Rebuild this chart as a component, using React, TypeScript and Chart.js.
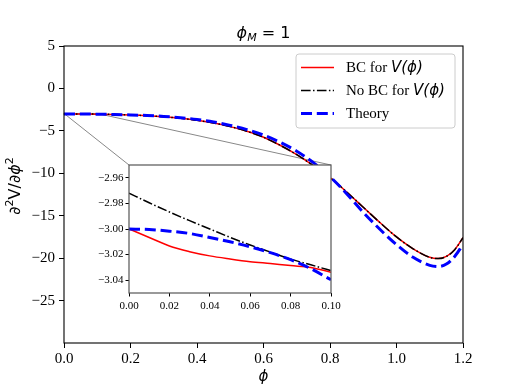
import React, { useEffect, useRef } from "react";
import { Chart, registerables } from "chart.js";

Chart.register(...registerables);

// ---- main panel data ----
const PHI = [0, 0.05, 0.1, 0.15, 0.2, 0.25, 0.3, 0.35, 0.4, 0.45, 0.5, 0.55, 0.6, 0.65, 0.7, 0.75, 0.8, 0.85, 0.9, 0.95, 1.0, 1.05, 1.1, 1.125, 1.15, 1.175, 1.2];
const RED_MAIN = [-3.0, -3.02, -3.03, -3.07, -3.13, -3.22, -3.35, -3.52, -3.75, -4.08, -4.5, -5.05, -5.75, -6.7, -7.8, -9.1, -10.5, -12.2, -14.0, -15.8, -17.5, -18.9, -19.9, -20.05, -19.8, -19.0, -17.6];
const BLACK_MAIN = [-2.97, -3.01, -3.03, -3.07, -3.13, -3.22, -3.35, -3.52, -3.75, -4.08, -4.5, -5.05, -5.75, -6.7, -7.8, -9.1, -10.5, -12.2, -14.0, -15.8, -17.5, -18.9, -19.9, -20.05, -19.8, -19.0, -17.6];
const BLUE_MAIN = [-3.0, -3.01, -3.04, -3.07, -3.12, -3.19, -3.3, -3.45, -3.65, -3.95, -4.35, -4.85, -5.5, -6.35, -7.4, -8.75, -10.4, -12.4, -14.6, -16.6, -18.4, -19.9, -20.85, -21.0, -20.7, -19.8, -18.4];
const X_TICKS = [0, 0.2, 0.4, 0.6, 0.8, 1.0, 1.2];
const Y_TICKS = [-25, -20, -15, -10, -5, 0, 5];

// ---- inset data ----
const PHI_INSET = [0, 0.01, 0.02, 0.03, 0.04, 0.05, 0.06, 0.07, 0.08, 0.09, 0.1];
const RED_INSET = [-3.0, -3.0066, -3.0133, -3.0177, -3.021, -3.0234, -3.0255, -3.027, -3.0286, -3.030, -3.0338];
const BLACK_INSET = [-2.972, -2.9795, -2.9867, -2.9935, -3.0, -3.0065, -3.0125, -3.018, -3.0235, -3.028, -3.0325];
const BLUE_INSET = [-3.0, -3.0004, -3.0017, -3.0035, -3.0066, -3.010, -3.0139, -3.0185, -3.024, -3.031, -3.0397];
const INSET_X_TICKS = [0, 0.02, 0.04, 0.06, 0.08, 0.1];
const INSET_Y_TICKS = [-3.04, -3.02, -3.0, -2.98, -2.96];

// ---- legend / labels ----
const LEGEND_TEXT = ["BC for ", "No BC for ", "Theory"];
const LEGEND_MATH = ["V(ϕ)", "V(ϕ)", ""];
const TITLE_MAIN = "ϕ";
const TITLE_SUB = "M";
const TITLE_REST = " = 1";
const X_LABEL = "ϕ";

const RED = "#ff0000";
const BLACK = "#000000";
const BLUE = "#0000ff";
const DASH_DOT = [9.6, 2.4, 1.5, 2.4];
const DASHED = [11, 4.8];

const SERIF = "'Liberation Serif', 'Times New Roman', serif";
const SANS = "'DejaVu Sans', sans-serif";

const fmtMinus = (s: string) => s.replace("-", "\u2212");

// inset canvas placement
const INSET_BOX = { left: 80, top: 155, width: 280, height: 165 };

export default function App() {
  const mainRef = useRef<HTMLCanvasElement | null>(null);
  const insetRef = useRef<HTMLCanvasElement | null>(null);

  useEffect(() => {
    if (!mainRef.current || !insetRef.current) return;

    const insetDecor = {
      id: "insetDecor",
      beforeDraw(chart: any) {
        const { ctx, chartArea: a } = chart;
        ctx.save();
        ctx.fillStyle = "#ffffff";
        ctx.fillRect(a.left, a.top, a.right - a.left, a.bottom - a.top);
        ctx.restore();
      },
      afterDraw(chart: any) {
        const { ctx, chartArea: a } = chart;
        ctx.save();
        ctx.strokeStyle = "#555555";
        ctx.lineWidth = 1.2;
        ctx.strokeRect(a.left, a.top, a.right - a.left, a.bottom - a.top);
        ctx.restore();
      },
    };

    const inset = new Chart(insetRef.current, {
      type: "line",
      data: {
        datasets: [
          { label: "BC", data: PHI_INSET.map((x, i) => ({ x, y: RED_INSET[i] })), borderColor: RED, borderWidth: 1.5, pointRadius: 0, order: 2, cubicInterpolationMode: "monotone" },
          { label: "NoBC", data: PHI_INSET.map((x, i) => ({ x, y: BLACK_INSET[i] })), borderColor: BLACK, borderWidth: 1.5, borderDash: DASH_DOT, pointRadius: 0, order: 1, cubicInterpolationMode: "monotone" },
          { label: "Theory", data: PHI_INSET.map((x, i) => ({ x, y: BLUE_INSET[i] })), borderColor: BLUE, borderWidth: 3, borderDash: DASHED, pointRadius: 0, order: 0, cubicInterpolationMode: "monotone" },
        ],
      },
      options: {
        animation: false,
        responsive: false,
        maintainAspectRatio: false,
        layout: { padding: { left: 0, top: 10, right: 29, bottom: 0 } },
        plugins: { legend: { display: false }, tooltip: { enabled: false } },
        scales: {
          x: {
            type: "linear",
            min: 0,
            max: 0.1,
            afterBuildTicks: (s: any) => { s.ticks = INSET_X_TICKS.map((v) => ({ value: v })); },
            afterFit: (s: any) => { s.height = 27; },
            grid: { drawOnChartArea: false, drawTicks: true, tickLength: 3.5, color: "#000", tickWidth: 1 },
            border: { display: false },
            ticks: { color: "#000", font: { family: SERIF, size: 11 }, padding: 3, maxRotation: 0, autoSkip: false, callback: (v: any) => Number(v).toFixed(2) },
          },
          y: {
            type: "linear",
            min: -3.05,
            max: -2.95,
            afterBuildTicks: (s: any) => { s.ticks = INSET_Y_TICKS.map((v) => ({ value: v })); },
            afterFit: (s: any) => { s.width = 49; },
            grid: { drawOnChartArea: false, drawTicks: true, tickLength: 3.5, color: "#000", tickWidth: 1 },
            border: { display: false },
            ticks: { color: "#000", font: { family: SERIF, size: 11 }, padding: 2, autoSkip: false, callback: (v: any) => fmtMinus(Number(v).toFixed(2)) },
          },
        },
      },
      plugins: [insetDecor],
    } as any);

    const drawPieces = (ctx: CanvasRenderingContext2D, pieces: { t: string; font: string; dy: number }[], cx: number, baseline: number) => {
      let total = 0;
      for (const p of pieces) { ctx.font = p.font; total += ctx.measureText(p.t).width; }
      let x = cx - total / 2;
      ctx.textAlign = "left";
      ctx.textBaseline = "alphabetic";
      for (const p of pieces) {
        ctx.font = p.font;
        ctx.fillText(p.t, x, baseline + p.dy);
        x += ctx.measureText(p.t).width;
      }
    };

    const mainDecor = {
      id: "mainDecor",
      beforeDatasetsDraw(chart: any) {
        const { ctx } = chart;
        const xs = chart.scales.x;
        const ys = chart.scales.y;
        const ia = inset.chartArea;
        const x0 = xs.getPixelForValue(0);
        const x1 = xs.getPixelForValue(0.1);
        const yTop = ys.getPixelForValue(-2.95);
        const yBot = ys.getPixelForValue(-3.05);
        ctx.save();
        ctx.strokeStyle = "#888888";
        ctx.lineWidth = 1;
        ctx.strokeRect(x0, yTop, x1 - x0, yBot - yTop);
        ctx.beginPath();
        ctx.moveTo(x0, yTop);
        ctx.lineTo(INSET_BOX.left + ia.left, INSET_BOX.top + ia.top);
        ctx.moveTo(x1, yTop);
        ctx.lineTo(INSET_BOX.left + ia.right, INSET_BOX.top + ia.top);
        ctx.stroke();
        ctx.restore();
      },
      afterDraw(chart: any) {
        const { ctx, chartArea: a } = chart;
        ctx.save();
        // frame
        ctx.strokeStyle = "#000";
        ctx.lineWidth = 1.1;
        ctx.strokeRect(a.left, a.top, a.right - a.left, a.bottom - a.top);

        ctx.fillStyle = "#000";
        // title
        drawPieces(ctx, [
          { t: TITLE_MAIN, font: `italic 16px ${SANS}`, dy: 0 },
          { t: TITLE_SUB, font: `italic 11px ${SANS}`, dy: 3 },
          { t: TITLE_REST, font: `16px ${SANS}`, dy: 0 },
        ], (a.left + a.right) / 2, 38);

        // x label
        ctx.font = `italic 15px ${SANS}`;
        ctx.textAlign = "center";
        ctx.textBaseline = "alphabetic";
        ctx.fillText(X_LABEL, (a.left + a.right) / 2, 381);

        // y label (rotated)
        ctx.save();
        ctx.translate(20, 186);
        ctx.rotate(-Math.PI / 2);
        drawPieces(ctx, [
          { t: "∂", font: `16px ${SANS}`, dy: 0 },
          { t: "2", font: `11px ${SANS}`, dy: -7 },
          { t: "V", font: `16px ${SANS}`, dy: 0 },
          { t: "/", font: `16px ${SANS}`, dy: 0 },
          { t: "∂", font: `16px ${SANS}`, dy: 0 },
          { t: "ϕ", font: `italic 16px ${SANS}`, dy: 0 },
          { t: "2", font: `11px ${SANS}`, dy: -7 },
        ], 0, 0);
        ctx.restore();

        // legend
        const lx = 296, ly = 54, lw = 159, lh = 74, r = 3;
        ctx.beginPath();
        ctx.moveTo(lx + r, ly);
        ctx.arcTo(lx + lw, ly, lx + lw, ly + lh, r);
        ctx.arcTo(lx + lw, ly + lh, lx, ly + lh, r);
        ctx.arcTo(lx, ly + lh, lx, ly, r);
        ctx.arcTo(lx, ly, lx + lw, ly, r);
        ctx.closePath();
        ctx.fillStyle = "rgba(255,255,255,0.8)";
        ctx.fill();
        ctx.strokeStyle = "#cccccc";
        ctx.lineWidth = 1;
        ctx.stroke();

        const rows = [67.5, 90.5, 113.5];
        const styles = [
          { c: RED, w: 1.5, d: [] as number[] },
          { c: BLACK, w: 1.5, d: DASH_DOT },
          { c: BLUE, w: 3, d: DASHED },
        ];
        rows.forEach((yy, i) => {
          ctx.beginPath();
          ctx.setLineDash(styles[i].d);
          ctx.strokeStyle = styles[i].c;
          ctx.lineWidth = styles[i].w;
          ctx.moveTo(301, yy);
          ctx.lineTo(334, yy);
          ctx.stroke();
          ctx.setLineDash([]);
          ctx.fillStyle = "#000";
          ctx.textAlign = "left";
          ctx.textBaseline = "middle";
          ctx.font = `15px ${SERIF}`;
          ctx.fillText(LEGEND_TEXT[i], 346, yy + 1);
          const w = ctx.measureText(LEGEND_TEXT[i]).width;
          if (LEGEND_MATH[i]) {
            ctx.font = `italic 15px ${SANS}`;
            ctx.fillText(LEGEND_MATH[i], 346 + w, yy + 1);
          }
        });
        ctx.restore();
      },
    };

    const main = new Chart(mainRef.current, {
      type: "line",
      data: {
        datasets: [
          { label: "BC", data: PHI.map((x, i) => ({ x, y: RED_MAIN[i] })), borderColor: RED, borderWidth: 1.5, pointRadius: 0, order: 2, cubicInterpolationMode: "monotone" },
          { label: "NoBC", data: PHI.map((x, i) => ({ x, y: BLACK_MAIN[i] })), borderColor: BLACK, borderWidth: 1.5, borderDash: DASH_DOT, pointRadius: 0, order: 1, cubicInterpolationMode: "monotone" },
          { label: "Theory", data: PHI.map((x, i) => ({ x, y: BLUE_MAIN[i] })), borderColor: BLUE, borderWidth: 3, borderDash: DASHED, pointRadius: 0, order: 0, cubicInterpolationMode: "monotone" },
        ],
      },
      options: {
        animation: false,
        responsive: false,
        maintainAspectRatio: false,
        layout: { padding: { left: 0, top: 46, right: 52, bottom: 0 } },
        plugins: { legend: { display: false }, tooltip: { enabled: false } },
        scales: {
          x: {
            type: "linear",
            min: 0,
            max: 1.2,
            afterBuildTicks: (s: any) => { s.ticks = X_TICKS.map((v) => ({ value: v })); },
            afterFit: (s: any) => { s.height = 43; },
            grid: { drawOnChartArea: false, drawTicks: true, tickLength: 5, color: "#000", tickWidth: 1 },
            border: { display: false },
            ticks: { color: "#000", font: { family: SERIF, size: 15 }, padding: 2, maxRotation: 0, autoSkip: false, callback: (v: any) => Number(v).toFixed(1) },
          },
          y: {
            type: "linear",
            min: -30,
            max: 5,
            afterBuildTicks: (s: any) => { s.ticks = Y_TICKS.map((v) => ({ value: v })); },
            afterFit: (s: any) => { s.width = 64; },
            grid: { drawOnChartArea: false, drawTicks: true, tickLength: 5, color: "#000", tickWidth: 1 },
            border: { display: false },
            ticks: { color: "#000", font: { family: SERIF, size: 15 }, padding: 4, autoSkip: false, callback: (v: any) => fmtMinus(String(v)) },
          },
        },
      },
      plugins: [mainDecor],
    } as any);

    return () => {
      main.destroy();
      inset.destroy();
    };
  }, []);

  return (
    <div style={{ position: "absolute", left: 0, top: 0, width: 515, height: 386 }}>
      <canvas
        ref={mainRef}
        width={515}
        height={386}
        style={{ position: "absolute", left: 0, top: 0, width: 515, height: 386 }}
      />
      <canvas
        ref={insetRef}
        width={INSET_BOX.width}
        height={INSET_BOX.height}
        style={{ position: "absolute", left: INSET_BOX.left, top: INSET_BOX.top, width: INSET_BOX.width, height: INSET_BOX.height }}
      />
    </div>
  );
}
